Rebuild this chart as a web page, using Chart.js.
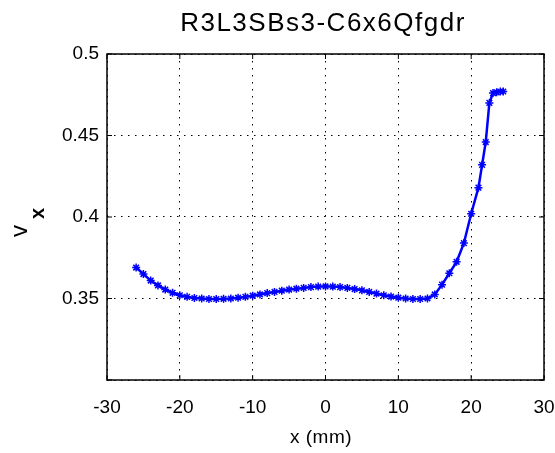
<!DOCTYPE html>
<html>
<head>
<meta charset="utf-8">
<script src="https://cdn.jsdelivr.net/npm/chart.js@4/dist/chart.umd.min.js"></script>
<style>
    html, body { margin: 0; padding: 0; background: #fff; }
    #wrap { width: 555px; height: 453px; }
</style>
</head>
<body>
<div id="wrap"><canvas id="myChart" width="555" height="453"></canvas></div>
<script>
// Datos
const xValues = [-26, -25, -24, -23, -22, -21, -20, -19, -18, -17, -16, -15, -14, -13, -12, -11,
    -10, -9, -8, -7, -6, -5, -4, -3, -2, -1, 0, 1, 2, 3, 4, 5, 6, 7, 8, 9, 10, 11, 12, 13, 14,
    15, 16, 17, 18, 19, 20, 21, 21.5, 22, 22.5, 23, 23.5, 24, 24.4];
const vxValues = [0.369, 0.365, 0.361, 0.358, 0.3555, 0.3535, 0.352, 0.351, 0.3503, 0.350, 0.3497,
    0.3497, 0.3498, 0.350, 0.3505, 0.351, 0.3517, 0.3525, 0.3533, 0.354, 0.3548, 0.3555, 0.356,
    0.3565, 0.357, 0.3573, 0.3574, 0.3573, 0.357, 0.3565, 0.3558, 0.355, 0.354, 0.353, 0.352,
    0.3512, 0.3505, 0.350, 0.3497, 0.3497, 0.350, 0.3525, 0.3585, 0.3655, 0.3725, 0.384, 0.402,
    0.418, 0.432, 0.446, 0.47, 0.476, 0.4765, 0.477, 0.477];
const xTicks = [-30, -20, -10, 0, 10, 20, 30];
const yTicks = [0.3, 0.35, 0.4, 0.45, 0.5];
const yTickLabels = ['', '0.35', '0.4', '0.45', '0.5'];

const points = xValues.map((x, i) => ({ x: x, y: vxValues[i] }));

// Marco, marcas interiores y textos estilo MATLAB
const matlabFrame = {
    id: 'matlabFrame',
    afterDraw(chart) {
        const ctx = chart.ctx;
        const area = chart.chartArea;
        const xs = chart.scales.x;
        const ys = chart.scales.y;
        ctx.save();
        ctx.strokeStyle = '#000';
        ctx.lineWidth = 1.5;
        ctx.strokeRect(area.left, area.top, area.right - area.left, area.bottom - area.top);
        ctx.lineWidth = 1;
        ctx.beginPath();
        xTicks.forEach(t => {
            const px = xs.getPixelForValue(t);
            ctx.moveTo(px, area.bottom); ctx.lineTo(px, area.bottom - 5);
            ctx.moveTo(px, area.top); ctx.lineTo(px, area.top + 5);
        });
        yTicks.forEach(t => {
            const py = ys.getPixelForValue(t);
            ctx.moveTo(area.left, py); ctx.lineTo(area.left + 5, py);
            ctx.moveTo(area.right, py); ctx.lineTo(area.right - 5, py);
        });
        ctx.stroke();

        // Título
        ctx.fillStyle = '#000';
        ctx.font = '26px "Liberation Sans", Arial, sans-serif';
        ctx.letterSpacing = '1.5px';
        ctx.textAlign = 'center';
        ctx.textBaseline = 'alphabetic';
        ctx.fillText('R3L3SBs3-C6x6Qfgdr', 323, 31);

        // Título del eje x
        ctx.font = '19px "Liberation Sans", Arial, sans-serif';
        ctx.letterSpacing = '0.5px';
        ctx.fillText('x (mm)', 321, 443);
        ctx.letterSpacing = '0px';

        // Título del eje y: v con subíndice x
        ctx.translate(27, 237);
        ctx.rotate(-Math.PI / 2);
        ctx.textAlign = 'left';
        ctx.font = '24px "Liberation Sans", Arial, sans-serif';
        ctx.fillText('v', 0, 0);
        ctx.font = 'bold 20px "Liberation Sans", Arial, sans-serif';
        ctx.fillText('x', 18, 17);
        ctx.restore();
    }
};

const ctx = document.getElementById('myChart').getContext('2d');
const myChart = new Chart(ctx, {
    type: 'line',
    data: {
        datasets: [{
            data: points,
            borderColor: '#0000ff',
            backgroundColor: '#0000ff',
            borderWidth: 2.5,
            pointStyle: 'star',
            pointRadius: 4,
            pointBorderWidth: 1.5,
            pointBorderColor: '#0000ff',
            tension: 0,
            fill: false
        }]
    },
    options: {
        responsive: false,
        animation: false,
        layout: { padding: { left: 0, right: 11, top: 54, bottom: 0 } },
        plugins: {
            legend: { display: false },
            title: { display: false },
            tooltip: { enabled: false }
        },
        scales: {
            x: {
                type: 'linear',
                min: -30,
                max: 30,
                afterBuildTicks: axis => { axis.ticks = xTicks.map(v => ({ value: v })); },
                afterFit: axis => {
                    axis.height = 73;
                    axis.paddingLeft = 0;
                    axis.paddingRight = 0;
                },
                ticks: {
                    color: '#000',
                    font: { family: '"Liberation Sans", Arial, sans-serif', size: 19 },
                    padding: 16,
                    maxRotation: 0,
                    callback: v => String(v)
                },
                grid: { color: '#000', lineWidth: 1, drawTicks: false },
                border: { display: false, dash: [1.5, 5.5] }
            },
            y: {
                type: 'linear',
                min: 0.3,
                max: 0.5,
                afterBuildTicks: axis => { axis.ticks = yTicks.map(v => ({ value: v })); },
                afterFit: axis => {
                    axis.width = 107;
                    axis.paddingTop = 0;
                    axis.paddingBottom = 0;
                },
                ticks: {
                    color: '#000',
                    font: { family: '"Liberation Sans", Arial, sans-serif', size: 19 },
                    padding: 8,
                    callback: (v, i) => yTickLabels[i]
                },
                grid: { color: '#000', lineWidth: 1, drawTicks: false },
                border: { display: false, dash: [1.5, 5.5] }
            }
        }
    },
    plugins: [matlabFrame]
});
</script>
</body>
</html>
